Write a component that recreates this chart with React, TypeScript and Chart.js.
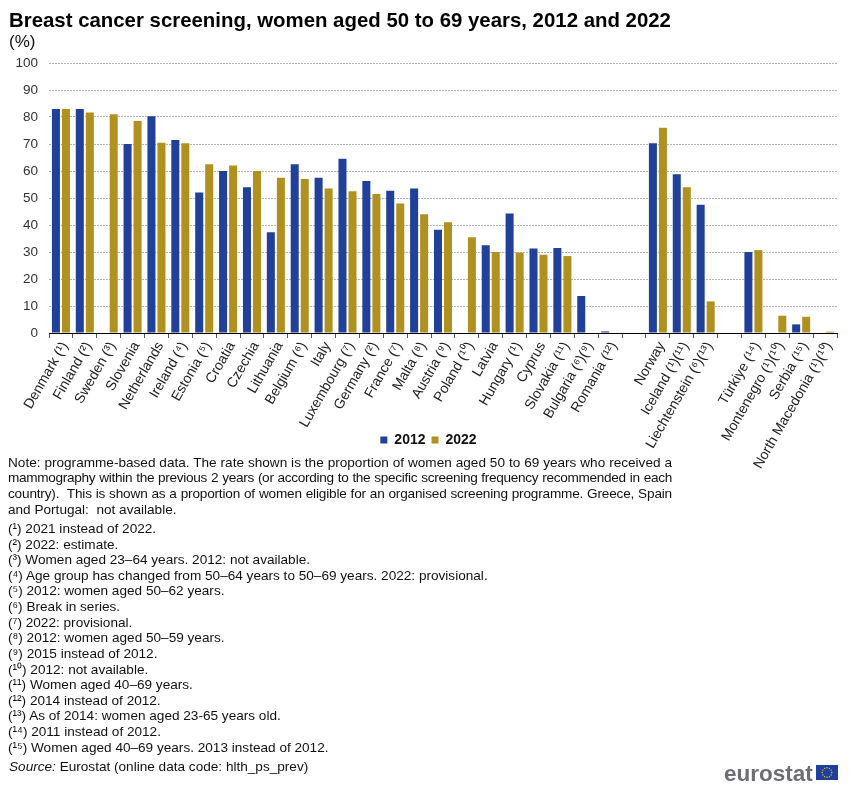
import React, { useEffect, useRef } from "react";
import { Chart, registerables } from "chart.js";

Chart.register(...registerables);

const categories = [
  "Denmark (¹)", "Finland (²)", "Sweden (³)", "Slovenia", "Netherlands", "Ireland (⁴)", "Estonia (⁵)", "Croatia",
  "Czechia", "Lithuania", "Belgium (⁶)", "Italy", "Luxembourg (⁷)", "Germany (²)", "France (⁷)", "Malta (⁸)",
  "Austria (⁹)", "Poland (¹⁰)", "Latvia", "Hungary (¹)", "Cyprus", "Slovakia (¹¹)", "Bulgaria (⁶)(⁹)", "Romania (¹²)",
  "", "Norway", "Iceland (¹)(¹¹)", "Liechtenstein (⁶)(¹³)", "", "Türkiye (¹⁴)", "Montenegro (¹)(¹⁰)", "Serbia (¹⁵)",
  "North Macedonia (¹)(¹⁰)",
];
const values2012 = [
  83, 83, null, 70, 80.3, 71.5, 52, 60, 54, 37.3, 62.5, 57.5, 64.5, 56.3, 52.7, 53.5, 38.2, null, 32.5, 44.3, 31.3,
  31.5, 13.7, 0.6, null, 70.3, 58.8, 47.5, null, 30, null, 3.2, null,
];
const values2022 = [
  83, 81.7, 81, 78.5, 70.5, 70.3, 62.5, 62, 60, 57.5, 57, 53.5, 52.5, 51.5, 48, 44, 41, 35.5, 30, 29.8, 29, 28.5,
  null, null, null, 76, 54, 11.7, null, 30.7, 6.4, 6, 0.5,
];
const noteLines = [
  "Note: programme-based data. The rate shown is the proportion of women aged 50 to 69 years who received a",
  "mammography within the previous 2 years (or according to the specific screening frequency recommended in each",
  "country).  This is shown as a proportion of women eligible for an organised screening programme. Greece, Spain",
  "and Portugal:  not available.",
];
const noteSpacing = [0, -0.3, -0.18, 0];
const footnotes = [
  "(¹) 2021 instead of 2022.",
  "(²) 2022: estimate.",
  "(³) Women aged 23–64 years. 2012: not available.",
  "(⁴) Age group has changed from 50–64 years to 50–69 years. 2022: provisional.",
  "(⁵) 2012: women aged 50–62 years.",
  "(⁶) Break in series.",
  "(⁷) 2022: provisional.",
  "(⁸) 2012: women aged 50–59 years.",
  "(⁹) 2015 instead of 2012.",
  "(¹⁰) 2012: not available.",
  "(¹¹) Women aged 40–69 years.",
  "(¹²) 2014 instead of 2012.",
  "(¹³) As of 2014: women aged 23-65 years old.",
  "(¹⁴) 2011 instead of 2012.",
  "(¹⁵) Women aged 40–69 years. 2013 instead of 2012.",
];

const FONT = '"Liberation Sans", Arial, sans-serif';
const BLUE = "#21409a";
const GOLD = "#b09120";

const text = (top: number, left: number, size: number, extra: React.CSSProperties = {}): React.CSSProperties => ({
  position: "absolute",
  top,
  left,
  fontFamily: FONT,
  fontSize: size,
  lineHeight: "16px",
  whiteSpace: "pre",
  color: "#111",
  ...extra,
});

function Flag() {
  const stars = Array.from({ length: 12 }, (_, i) => i);
  return (
    <svg width={22} height={15} style={{ position: "absolute", left: 816, top: 765 }}>
      <rect width={22} height={15} fill="#1f3f9a" />
      {stars.map((i) => (
        <circle
          key={i}
          cx={11 + 4.8 * Math.cos((i * Math.PI) / 6)}
          cy={7.5 + 4.8 * Math.sin((i * Math.PI) / 6)}
          r={0.7}
          fill="#e8cf3a"
        />
      ))}
    </svg>
  );
}

// Lets the long rotated labels run past the axis box and centres the legend under the page.
const layoutTweaks = {
  id: "layoutTweaks",
  afterLayout(chart: any) {
    chart.scales.x.bottom = chart.height;
    if (chart.legend) {
      chart.legend.left += 10;
      chart.legend.right += 10;
    }
  },
};

export default function App() {
  const ref = useRef<HTMLCanvasElement>(null);
  useEffect(() => {
    document.body.style.margin = "0";
    const chart = new Chart(ref.current!, {
      type: "bar",
      plugins: [layoutTweaks],
      data: {
        labels: categories,
        datasets: [
          { label: "2012", data: values2012, backgroundColor: BLUE, categoryPercentage: 0.84, barPercentage: 0.8 },
          { label: "2022", data: values2022, backgroundColor: GOLD, categoryPercentage: 0.84, barPercentage: 0.8 },
        ],
      },
      options: {
        responsive: false,
        animation: false,
        layout: { padding: { top: 63, left: 0, right: 15, bottom: 339 } },
        plugins: {
          tooltip: { enabled: false },
          legend: {
            position: "bottom",
            labels: {
              boxWidth: 7,
              boxHeight: 7,
              padding: 6,
              color: "#111",
              font: { family: FONT, size: 14, weight: "bold" },
            },
          },
        },
        scales: {
          x: {
            grid: { drawOnChartArea: false, drawTicks: true, tickLength: 5, tickColor: "#555", offset: true },
            border: { color: "#000", width: 1 },
            ticks: {
              autoSkip: false,
              maxRotation: 60,
              minRotation: 60,
              color: "#222",
              padding: 1,
              labelOffset: 4,
              font: { family: FONT, size: 14 },
            },
            afterFit: (s: any) => {
              s.height = 94;
            },
          },
          y: {
            min: 0,
            max: 100,
            ticks: { stepSize: 10, color: "#333", padding: 11, font: { family: FONT, size: 13.5 } },
            grid: { color: "#b5b5b5", lineWidth: 1, drawTicks: false },
            border: { display: false, dash: [2, 1] },
            afterFit: (s: any) => {
              s.width = 49;
            },
          },
        },
      },
    });
    return () => chart.destroy();
  }, []);

  return (
    <div style={{ position: "relative", width: 852, height: 796, background: "#fff", overflow: "hidden" }}>
      <canvas ref={ref} width={852} height={796} style={{ position: "absolute", left: 0, top: 0 }} />
      <div style={text(10, 9, 20.4, { fontWeight: "bold", lineHeight: "20px", color: "#000" })}>
        Breast cancer screening, women aged 50 to 69 years, 2012 and 2022
      </div>
      <div style={text(34, 9, 17)}>(%)</div>
      {noteLines.map((l, i) => (
        <div
          key={i}
          style={text(454.5 + i * 15.7, 8, 13.6, {
            letterSpacing: noteSpacing[i],
            width: i < 3 ? 664 : undefined,
            textAlignLast: i < 3 ? "justify" : undefined,
            whiteSpace: i < 3 ? "pre-wrap" : "pre",
          })}
        >
          {l}
        </div>
      ))}
      {footnotes.map((l, i) => (
        <div key={i} style={text(521 + i * 15.62, 8, 13.6)}>
          {l}
        </div>
      ))}
      <div style={text(759, 9, 13.6)}>
        <i>Source:</i> Eurostat (online data code: hlth_ps_prev)
      </div>
      <div style={text(762, 724, 22.5, { fontWeight: "bold", color: "#6d6e73", lineHeight: "24px" })}>eurostat</div>
      <Flag />
    </div>
  );
}
